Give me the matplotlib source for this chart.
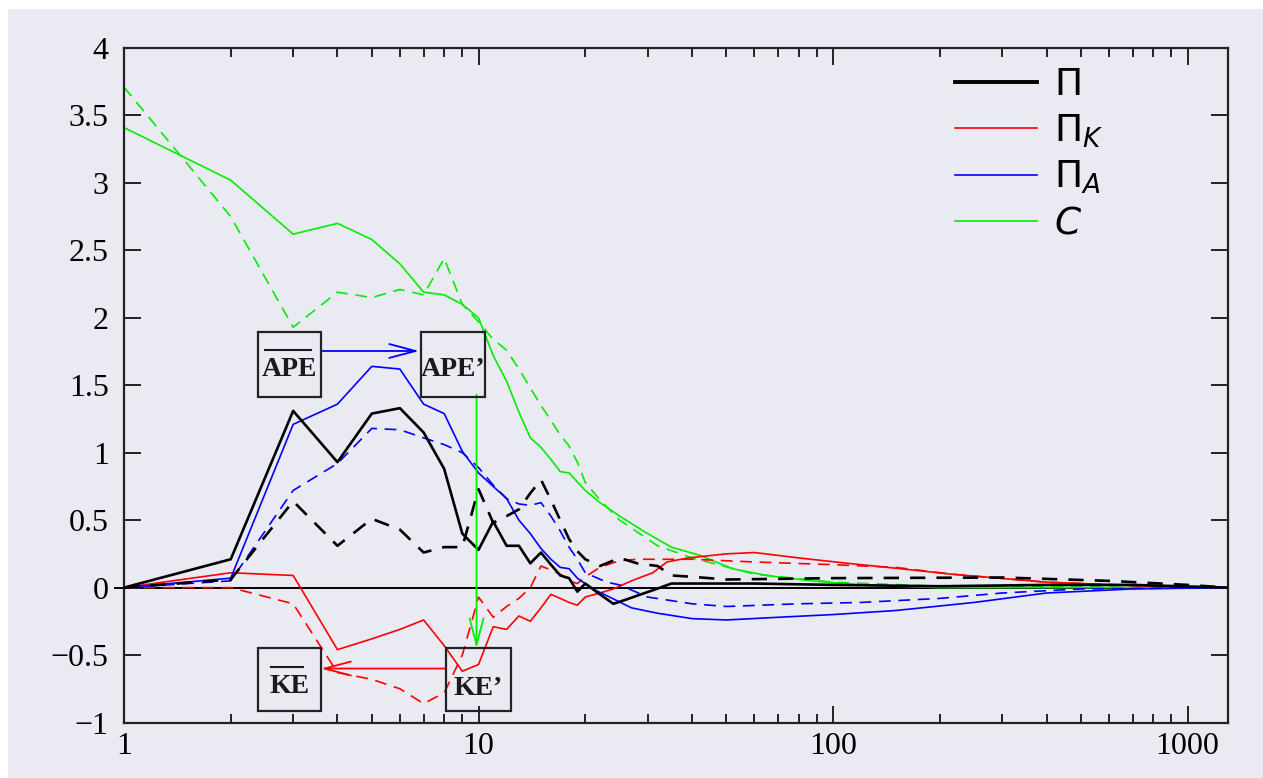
import numpy as np
import matplotlib
matplotlib.use('Agg')
import matplotlib.pyplot as plt
from matplotlib.patches import Rectangle
from matplotlib.ticker import LogLocator, NullFormatter, FixedLocator

# spectral fluxes vs wavenumber k (solid and dashed runs)
k_pi = [1, 2, 3, 4, 5, 6, 7, 8, 9, 10, 11, 12, 13, 14, 15, 16, 17, 18, 19, 20,
        22, 24, 26, 28, 31, 35, 40, 60, 100, 200, 400, 700, 1300]
pi = [0, 0.21, 1.31, 0.93, 1.29, 1.33, 1.15, 0.88, 0.40, 0.28, 0.49, 0.31, 0.31,
      0.18, 0.26, 0.17, 0.09, 0.07, -0.03, 0.03, -0.05, -0.12, -0.09, -0.06,
      -0.02, 0.03, 0.03, 0.03, 0.02, 0.01, 0.02, 0.02, 0.0]

k_pi_d = [1, 2, 3, 4, 5, 6, 7, 8, 9, 10, 11, 12, 13, 14, 15, 16, 17, 18, 19, 20,
          22, 25, 28, 32, 35, 40, 50, 100, 300, 600, 1000, 1300]
pi_d = [0, 0.06, 0.64, 0.31, 0.51, 0.43, 0.26, 0.30, 0.30, 0.73, 0.48, 0.53,
        0.58, 0.70, 0.80, 0.65, 0.50, 0.36, 0.27, 0.21, 0.16, 0.22, 0.18, 0.16,
        0.09, 0.08, 0.06, 0.07, 0.075, 0.05, 0.02, 0.0]

k_pik = [1, 2, 3, 4, 5, 6, 7, 8, 9, 10, 11, 12, 13, 14, 15, 16, 17, 18, 19, 20,
         22, 24, 27, 31, 34, 39, 50, 60, 80, 110, 155, 215, 400, 800, 1300]
pik = [0, 0.11, 0.09, -0.46, -0.38, -0.31, -0.24, -0.43, -0.62, -0.57, -0.29,
       -0.31, -0.21, -0.25, -0.15, -0.05, -0.08, -0.11, -0.13, -0.07, -0.04,
       -0.01, 0.05, 0.11, 0.19, 0.22, 0.25, 0.26, 0.22, 0.18, 0.14, 0.10, 0.04,
       0.01, 0.0]

k_pik_d = [1, 2, 3, 4, 5, 6, 7, 8, 9, 10, 11, 12, 13, 14, 15, 16, 17, 18, 19,
           20, 22, 25, 28, 40, 60, 100, 150, 215, 400, 800, 1300]
pik_d = [0, 0.0, -0.12, -0.63, -0.68, -0.75, -0.86, -0.78, -0.50, -0.07, -0.22,
         -0.14, -0.08, 0.0, 0.16, 0.13, 0.10, 0.05, 0.03, 0.08, 0.15, 0.20,
         0.21, 0.21, 0.19, 0.17, 0.15, 0.10, 0.04, 0.01, 0.0]

k_pia = [1, 2, 3, 4, 5, 6, 7, 8, 9, 10, 11, 12, 13, 14, 15, 16, 17, 18, 19, 21,
         23, 27, 32, 40, 50, 70, 100, 150, 250, 400, 700, 1300]
pia = [0, 0.07, 1.21, 1.36, 1.64, 1.62, 1.36, 1.29, 1.01, 0.85, 0.75, 0.66,
       0.50, 0.40, 0.29, 0.21, 0.15, 0.14, 0.07, -0.01, -0.06, -0.15, -0.19,
       -0.23, -0.24, -0.22, -0.20, -0.17, -0.11, -0.04, -0.01, 0.0]

k_pia_d = [1, 2, 3, 4, 5, 6, 7, 8, 9, 10, 11, 12, 13, 14, 15, 16, 17, 18, 19,
           20, 23, 25, 30, 40, 50, 80, 120, 200, 300, 500, 1300]
pia_d = [0, 0.05, 0.72, 0.92, 1.18, 1.17, 1.11, 1.06, 1.00, 0.89, 0.76, 0.66,
         0.62, 0.61, 0.63, 0.53, 0.42, 0.30, 0.21, 0.11, 0.04, 0.02, -0.07,
         -0.12, -0.14, -0.12, -0.11, -0.08, -0.04, -0.01, 0.0]

k_c = [1, 2, 3, 4, 5, 6, 7, 8, 9, 10, 11, 12, 13, 14, 15, 16, 17, 18, 20, 22,
       25, 30, 35, 42, 52, 65, 87, 120, 200, 400, 1300]
c = [3.41, 3.02, 2.62, 2.70, 2.58, 2.40, 2.19, 2.17, 2.10, 2.00, 1.72, 1.53,
     1.30, 1.11, 1.04, 0.95, 0.86, 0.85, 0.72, 0.63, 0.53, 0.40, 0.30, 0.24,
     0.14, 0.09, 0.05, 0.02, 0.0, 0.0, 0.0]

k_c_d = [1, 2, 3, 4, 5, 6, 7, 8, 9, 10, 11, 12, 13, 14, 15, 16, 17, 18, 19, 20,
         22, 25, 32, 40, 60, 100, 200, 1300]
c_d = [3.71, 2.75, 1.93, 2.19, 2.15, 2.21, 2.17, 2.44, 2.10, 1.97, 1.84, 1.76,
       1.62, 1.48, 1.35, 1.24, 1.13, 1.05, 0.93, 0.78, 0.65, 0.50, 0.31, 0.22,
       0.10, 0.04, 0.01, 0.0]

yticks = [-1, -0.5, 0, 0.5, 1, 1.5, 2, 2.5, 3, 3.5, 4]
ytick_labels = ['\u22121', '\u22120.5', '0', '0.5', '1', '1.5', '2', '2.5', '3', '3.5', '4']
xticks = [1, 10, 100, 1000]
xtick_labels = ['1', '10', '100', '1000']

bg = '#eaeaf3'
plt.rcParams['mathtext.fontset'] = 'dejavusans'
plt.rcParams['lines.scale_dashes'] = False

fig = plt.figure(figsize=(12.63, 7.78), dpi=100)
fig.patch.set_facecolor('white')
fig.add_artist(Rectangle((8/1263, 0), 1, 1 - 9/778, transform=fig.transFigure,
                         facecolor=bg, edgecolor='none', zorder=-5))

ax = fig.add_axes([124/1263, 1 - 722.5/778, 1104/1263, 674.5/778])
ax.set_facecolor(bg)

cd = (8.5, 5.5)   # coloured dashes
bd = (11, 8)      # black dashes
ax.axhline(0, xmin=-0.008, xmax=1, color='black', lw=1.4, clip_on=False, zorder=1)

ax.plot(k_c, c, color='#00ee00', lw=1.2, label='$C$', zorder=2)
ax.plot(k_c_d, c_d, color='#00ee00', lw=1.2, dashes=cd, zorder=2)
ax.plot(k_pik, pik, color='red', lw=1.2, label='$\\Pi_K$', zorder=3)
ax.plot(k_pik_d, pik_d, color='red', lw=1.2, dashes=cd, zorder=3)
ax.plot(k_pia, pia, color='blue', lw=1.2, label='$\\Pi_A$', zorder=3)
ax.plot(k_pia_d, pia_d, color='blue', lw=1.2, dashes=cd, zorder=3)
ax.plot(k_pi, pi, color='black', lw=1.9, label='$\\Pi$', zorder=4)
ax.plot(k_pi_d, pi_d, color='black', lw=1.9, dashes=bd, zorder=4)

ax.set_xscale('log')
ax.set_xlim(1, 1300)
ax.set_ylim(-1, 4)

serif = 'Liberation Serif'
ax.xaxis.set_major_locator(FixedLocator(xticks))
ax.set_xticklabels(xtick_labels, family=serif, fontsize=23)
ax.xaxis.set_minor_locator(LogLocator(base=10, subs=np.arange(2, 10)))
ax.xaxis.set_minor_formatter(NullFormatter())
ax.set_yticks(yticks)
ax.set_yticklabels(ytick_labels, family=serif, fontsize=23)
ax.tick_params(which='both', direction='in', top=True, right=True, width=1.4, color='#222222')
ax.tick_params(which='major', length=12.5)
ax.tick_params(which='minor', length=6.5)
ax.tick_params(axis='y', pad=11)
ax.tick_params(axis='x', pad=7)
for s in ax.spines.values():
    s.set_linewidth(1.6)
    s.set_color('#222222')

# energy reservoir boxes: corners, label, baseline, optional overline span
boxes = [((2.38, 1.413), (3.594, 1.895), 'APE', 1.567, (2.50, 3.37, 1.759)),
         ((6.90, 1.413), (10.42, 1.895), 'APE\u2019', 1.567, None),
         ((2.38, -0.915), (3.594, -0.45), 'KE', -0.78, (2.60, 3.20, -0.587)),
         ((8.10, -0.915), (12.31, -0.45), 'KE\u2019', -0.796, None)]
for (x0, y0), (x1, y1), txt, base, bar in boxes:
    ax.add_patch(Rectangle((x0, y0), x1 - x0, y1 - y0, fill=False,
                           edgecolor='#222222', lw=1.6, zorder=6))
    ax.text(np.sqrt(x0 * x1), base, txt, family=serif, weight='bold', fontsize=20,
            ha='center', va='baseline', color='#1a1a1a', zorder=7)
    if bar is not None:
        ax.plot([bar[0], bar[1]], [bar[2], bar[2]], color='#1a1a1a', lw=1.5, zorder=7)

arrow = dict(arrowstyle='->,head_length=0.95,head_width=0.25', mutation_scale=20,
             shrinkA=0, shrinkB=0, lw=1.3)
ax.annotate('', xy=(6.80, 1.754), xytext=(3.594, 1.754),
            arrowprops=dict(arrow, color='blue'), zorder=5)
ax.annotate('', xy=(9.87, -0.45), xytext=(9.87, 1.43),
            arrowprops=dict(arrow, color='#00ee00'), zorder=5)
ax.annotate('', xy=(3.594, -0.60), xytext=(8.10, -0.60),
            arrowprops=dict(arrow, color='red'), zorder=5)

handles, labels = ax.get_legend_handles_labels()
order = [3, 1, 2, 0]
leg = ax.legend([handles[i] for i in order], [labels[i] for i in order],
                loc='upper right', bbox_to_anchor=(0.918, 1.022), frameon=False,
                fontsize=27, handlelength=2.2, handletextpad=0.45, labelspacing=0.25)
leg.get_lines()[0].set_linewidth(2.8)

fig.savefig('out.png', dpi=100, facecolor=fig.get_facecolor())
